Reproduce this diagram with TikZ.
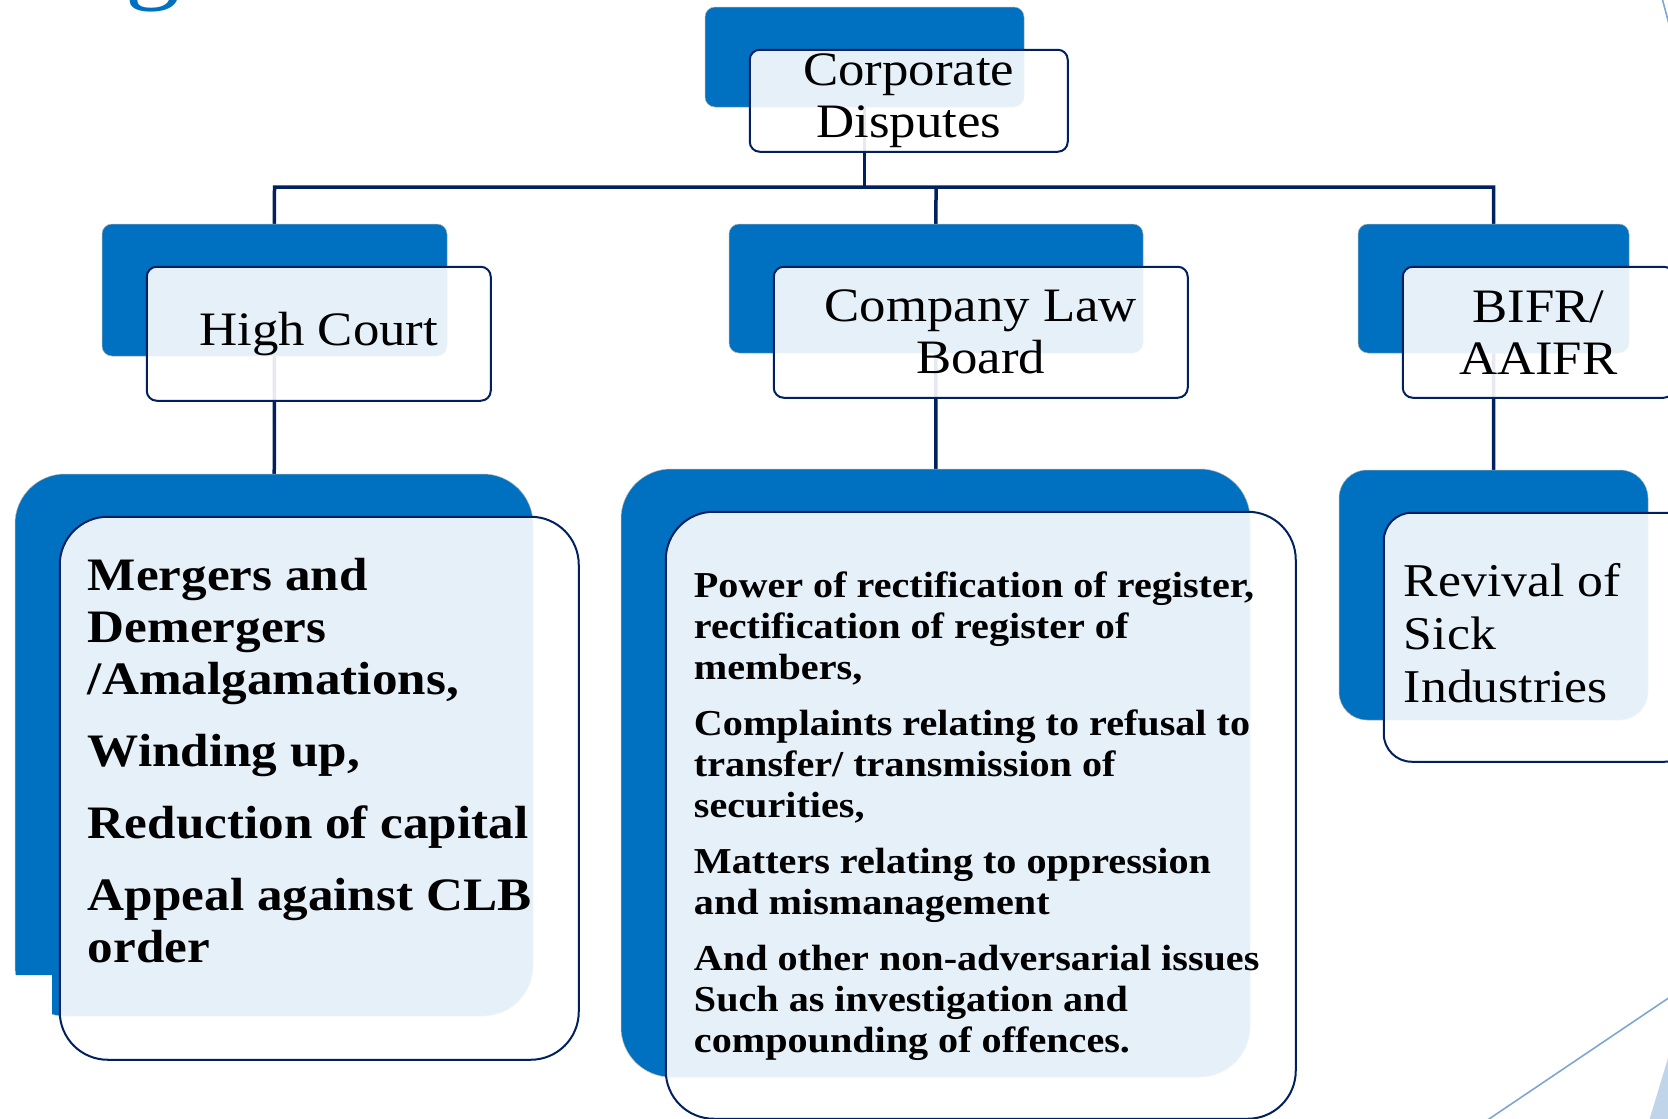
\documentclass[tikz,border=0pt]{standalone}
\usepackage{fontspec}
\setmainfont[FakeStretch=1.1]{Liberation Serif}
\usetikzlibrary{positioning,backgrounds}
\definecolor{panelblue}{RGB}{0,112,192}
\definecolor{edgenavy}{RGB}{0,32,96}
\definecolor{decoline}{RGB}{126,166,212}
\definecolor{decofill}{RGB}{192,212,234}

\begin{document}
\begin{tikzpicture}[x=1pt, y=-1pt,
  backpanel/.style={fill=panelblue, draw=black!30, line width=0.5pt,
               inner sep=0pt, rounded corners=#1},
  backpanel/.default=10pt,
  frontpanel/.style={draw=edgenavy, line width=2pt, fill=white,
               fill opacity=0.9, text opacity=1, inner sep=0pt,
               align=center, font=\fontsize{48}{52}\selectfont,
               rounded corners=#1},
  frontpanel/.default=10pt,
  listtext/.style={inner sep=0pt, align=left, anchor=north west},
  link/.style={draw=edgenavy, line width=3.5pt},
  node distance=42pt and 44pt
]
\useasboundingbox (0,0) rectangle (1668,1119);

% slide leftovers
\node[text=panelblue, font=\fontsize{100}{100}\selectfont, anchor=base] (titleg) at (153,-10) {g};
\draw[decoline, line width=1.6pt] (1662,-2) -- (1669,24);
\draw[decoline, line width=1.6pt] (1486,1121) -- (1670,997);
\fill[decofill] (1668,1058) -- (1649,1121) -- (1670,1121) -- cycle;

% top level
\node[backpanel, minimum width=319pt, minimum height=100pt] (cdback) at (864.5,57) {};
\node[frontpanel, minimum width=318pt, minimum height=102pt,
      below right=of cdback.north west] (cdfront) {Corporate\\Disputes};

% forums
\node[backpanel, minimum width=345pt, minimum height=132pt] (hcback) at (274.5,290) {};
\node[frontpanel, minimum width=344pt, minimum height=134pt,
      below right=of hcback.north west] (hcfront) {High Court};

\node[backpanel, minimum width=414pt, minimum height=129pt] (clbback) at (936,288.5) {};
\node[frontpanel, minimum width=414pt, minimum height=131pt,
      below right=of clbback.north west] (clbfront) {Company Law\\Board};

\node[backpanel, minimum width=271pt, minimum height=129pt] (bifrback) at (1493.5,288.5) {};
\node[frontpanel, minimum width=271pt, minimum height=131pt,
      below right=of bifrback.north west] (bifrfront) {BIFR/\\AAIFR};

% matters handled by each forum
\begin{scope}
  \clip (0,0) rectangle (1668,975) (52,975) rectangle (1668,1119);
  \node[backpanel=50pt, minimum width=518pt, minimum height=542pt] (hcdback) at (274,745) {};
\end{scope}
\node[frontpanel=48pt, minimum width=519pt, minimum height=543pt,
      below right=of hcdback.north west] (hcdfront) {};
\node[listtext, font=\bfseries\fontsize{46.5}{52}\selectfont,
      below right=42pt and 29pt of hcdfront.north west] (hcdlist)
  {Mergers and\\Demergers\\/Amalgamations,\\[20pt]
   Winding up,\\[20pt]
   Reduction of capital\\[20pt]
   Appeal against CLB\\order};

\node[backpanel=50pt, minimum width=629pt, minimum height=608pt] (clbdback) at (935.5,773) {};
\node[frontpanel=48pt, minimum width=630pt, minimum height=607pt,
      below right=of clbdback.north west] (clbdfront) {};
\node[listtext, font=\bfseries\fontsize{36.5}{41}\selectfont,
      below right=61pt and 29pt of clbdfront.north west] (clbdlist)
  {Power of rectification of register,\\rectification of register of\\members,\\[15pt]
   Complaints relating to refusal to\\transfer/ transmission of\\securities,\\[15pt]
   Matters relating to oppression\\and mismanagement\\[15pt]
   And other non-adversarial issues\\Such as investigation and\\compounding of offences.};

\node[backpanel=28pt, minimum width=309pt, minimum height=250pt] (bifrdback) at (1493.5,595) {};
\node[frontpanel=28pt, minimum width=309pt, minimum height=249pt,
      below right=of bifrdback.north west] (bifrdfront) {};
\node[listtext, font=\fontsize{47}{53}\selectfont,
      below right=51pt and 21pt of bifrdfront.north west] (bifrdlist)
  {Revival of\\Sick\\Industries};

% connectors behind the panels
\begin{scope}[on background layer]
  \coordinate (bus) at (0,187);
  \draw[link] (cdback.center) -- (cdback.center |- bus);
  \draw[link] (hcdback.center) -- (hcback.center |- bus)
              -- (bifrback.center |- bus) -- (bifrdback.center);
  \draw[link] (clbback.center |- bus) -- (clbdback.center);
\end{scope}
\end{tikzpicture}
\end{document}
